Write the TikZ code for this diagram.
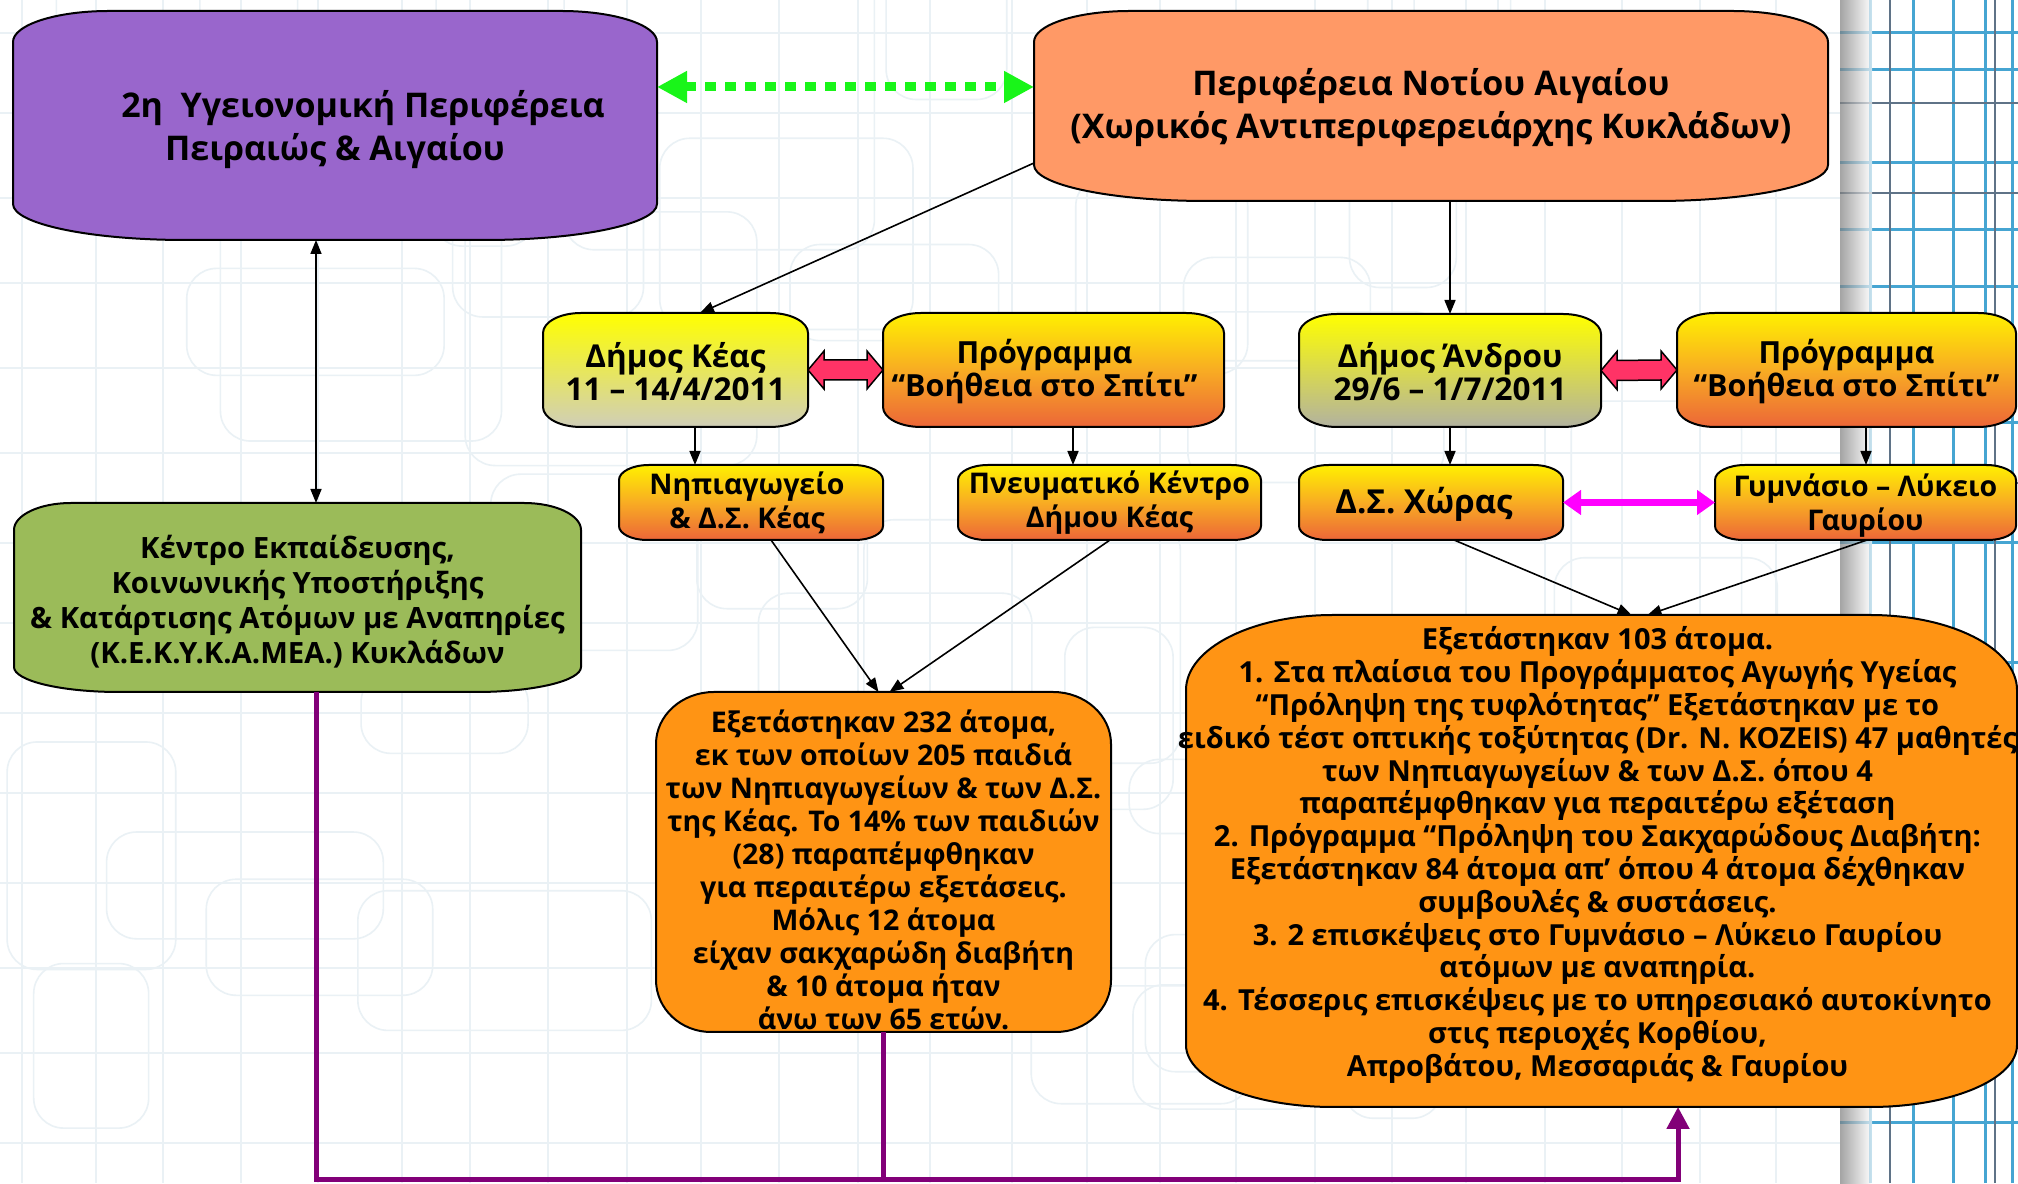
\documentclass[tikz,border=0pt]{standalone}
\usepackage{fontspec}
\setmainfont{Open Sans}
\usetikzlibrary{arrows.meta,calc}
\pgfdeclarelayer{bg}
\pgfdeclarelayer{shp}
\pgfsetlayers{bg,shp,main}
\definecolor{cpurple}{RGB}{153,102,204}
\definecolor{csalmon}{RGB}{255,153,102}
\definecolor{cgreen}{RGB}{155,187,89}
\definecolor{corange}{RGB}{255,148,20}
\definecolor{dotgreen}{RGB}{25,245,25}
\definecolor{cmag}{RGB}{255,0,255}
\definecolor{cred}{RGB}{255,51,102}
\definecolor{cpur}{RGB}{130,0,120}
\definecolor{ytop}{RGB}{255,255,0}
\definecolor{kbot}{RGB}{208,206,184}
\definecolor{abot}{RGB}{178,178,160}
\definecolor{ptop}{RGB}{255,240,0}
\definecolor{pmid}{RGB}{248,172,35}
\definecolor{pbot}{RGB}{236,102,56}
\definecolor{faint}{RGB}{234,241,245}
\definecolor{stripblue}{RGB}{70,165,210}
\definecolor{stripdark}{RGB}{95,115,135}
\pgfdeclareverticalshading{progsh}{100bp}{color(0bp)=(pbot); color(25bp)=(pbot); color(50bp)=(pmid); color(75bp)=(ptop); color(100bp)=(ptop)}
\newcommand\shapebox[6]{\draw[#6] ([yshift=-#3pt]#1.north west) arc[start angle=180,end angle=90,x radius=#2pt,y radius=#3pt] -- ([xshift=-#2pt]#1.north east) arc[start angle=90,end angle=0,x radius=#2pt,y radius=#3pt] -- ([yshift=#5pt]#1.south east) arc[start angle=0,end angle=-90,x radius=#4pt,y radius=#5pt] -- ([xshift=#4pt]#1.south west) arc[start angle=270,end angle=180,x radius=#4pt,y radius=#5pt] -- cycle;}
\begin{document}
\begin{tikzpicture}[x=1pt,y=1pt,
  bx/.style 2 args={inner sep=0pt,outer sep=0pt,minimum width=#1pt,minimum height=#2pt},
  bxs/.style={draw=black,line width=2pt},
  txt/.style={align=center,inner sep=0pt,font=\bfseries\fontsize{28.5}{33}\selectfont},
  midtxt/.style={align=center,inner sep=0pt,font=\bfseries\fontsize{30.5}{33}\selectfont},
  smtxt/.style={align=center,inner sep=0pt,font=\bfseries\fontsize{28.5}{34}\selectfont},
  bigtxt/.style={align=center,inner sep=0pt,font=\bfseries\fontsize{34}{43}\selectfont},
  blk/.style={-{Triangle[length=14pt,width=11pt]},line width=1.6pt,black},
  blk2/.style={{Triangle[length=14pt,width=11pt]}-{Triangle[length=14pt,width=11pt]},line width=1.6pt,black},
  grn/.style={{Triangle[length=30pt,width=30pt]}-{Triangle[length=30pt,width=30pt]},line width=9pt,dash pattern=on 11pt off 9pt,dotgreen},
  mag/.style={{Triangle[length=18pt,width=24pt]}-{Triangle[length=18pt,width=24pt]},line width=7pt,cmag},
  pur/.style={line width=5pt,cpur,line join=miter},
  redarr/.style={fill=cred,draw=black,line width=1.5pt,line join=miter}]
\useasboundingbox (0,0) rectangle (2018,1183);
\begin{pgfonlayer}{bg}
\fill[white] (0,0) rectangle (2018,1183);
\foreach \x in {22,96,163,241,318,402,470,548,627,701,779,858,930,1012,1087,1160,1236,1315,1392,1466,1545,1622,1700,1776}
  \draw[faint,line width=1.2pt] (\x,0) -- (\x,1183);
\foreach \y in {40,130,215,300,390,470,560,640,730,815,900,985,1070,1150}
  \draw[faint,line width=1.2pt] (0,\y) -- (1840,\y);
\pgfmathsetseed{7}
\foreach \i in {1,...,40}{
  \pgfmathsetmacro\rx{rnd*1750}
  \pgfmathsetmacro\ry{rnd*1120}
  \pgfmathsetmacro\rw{90+rnd*230}
  \pgfmathsetmacro\rh{70+rnd*220}
  \draw[faint,line width=1.6pt,rounded corners=30pt] (\rx,\ry) rectangle ++(\rw,\rh);
}
\fill[white] (1840,0) rectangle (2018,1183);
\foreach \x in {1870,1913,1953,1985,2012} \draw[stripblue,line width=3pt] (\x,0) -- (\x,1183);
\foreach \y in {1150,1113,1020,953,896,760,640,520,400,280,150,60} \draw[stripblue,line width=3pt] (1840,\y) -- (2018,\y);
\foreach \y in {1080,990,700,300} \draw[stripdark,line width=2.5pt] (1840,\y) -- (2018,\y);
\foreach \x in {1890,1995} \draw[stripdark,line width=2pt] (\x,0) -- (\x,1183);
\shade[left color=black!50,right color=white,opacity=0.7] (1840,0) rectangle (1872,1183);
\end{pgfonlayer}

% box frames (named nodes)
\node[bx={644}{229}] (hyg) at (335,1057.5) {};
\node[bx={794}{190}] (peri) at (1431,1077) {};
\node[bx={265}{114}] (keas) at (675.5,813) {};
\node[bx={341}{114}] (prog1) at (1053.5,813) {};
\node[bx={302}{113}] (andros) at (1450,812.5) {};
\node[bx={339}{114}] (prog2) at (1846.5,813) {};
\node[bx={264}{75}] (nipia) at (751,680.5) {};
\node[bx={303}{75}] (pnevm) at (1109.5,680.5) {};
\node[bx={264}{75}] (ds) at (1431,680.5) {};
\node[bx={301}{75}] (gym) at (1865.5,680.5) {};
\node[bx={567}{189}] (kek) at (297.5,585.5) {};
\node[bx={455}{340}] (res1) at (883.5,321) {};
\node[bx={831}{492}] (res2) at (1601.5,322) {};

\begin{pgfonlayer}{shp}
\shapebox{hyg}{96}{31}{172}{36}{bxs,fill=cpurple}
\shapebox{peri}{96}{31}{172}{36}{bxs,fill=csalmon}
\shapebox{keas}{38}{20}{38}{20}{bxs,top color=ytop,bottom color=kbot}
\shapebox{prog1}{38}{20}{38}{20}{bxs,shade,shading=progsh}
\shapebox{andros}{38}{20}{38}{20}{bxs,top color=ytop,bottom color=abot}
\shapebox{prog2}{38}{20}{38}{20}{bxs,shade,shading=progsh}
\shapebox{nipia}{30}{15}{28}{14}{bxs,shade,shading=progsh}
\shapebox{pnevm}{30}{15}{28}{14}{bxs,shade,shading=progsh}
\shapebox{ds}{30}{15}{28}{14}{bxs,shade,shading=progsh}
\shapebox{gym}{30}{15}{28}{14}{bxs,shade,shading=progsh}
\shapebox{kek}{57}{27}{105}{25}{bxs,fill=cgreen}
\shapebox{res1}{58}{52}{55}{52}{bxs,fill=corange}
\shapebox{res2}{147}{75}{147}{62}{bxs,fill=corange}
\end{pgfonlayer}

% texts
\node[bigtxt] (hyg-t) at ([yshift=-4pt]hyg.center) {\hspace*{56pt}2η\ \ Υγειονομική Περιφέρεια\\Πειραιώς \& Αιγαίου};
\node[bigtxt] (peri-t) at ([yshift=-2pt]peri.center) {Περιφέρεια Νοτίου Αιγαίου\\(Χωρικός Αντιπεριφερειάρχης Κυκλάδων)};
\node[midtxt,font=\bfseries\fontsize{31.5}{33}\selectfont] (keas-t) at ([yshift=-2pt]keas.center) {Δήμος Κέας\\11 – 14/4/2011};
\node[midtxt] (prog1-t) at ([xshift=-9pt,yshift=-2pt]prog1.center) {Πρόγραμμα\\“Βοήθεια στο Σπίτι”};
\node[midtxt,font=\bfseries\fontsize{31.5}{33}\selectfont] (andros-t) at ([yshift=-1pt]andros.center) {Δήμος Άνδρου\\29/6 – 1/7/2011};
\node[midtxt] (prog2-t) at ([yshift=-2pt]prog2.center) {Πρόγραμμα\\“Βοήθεια στο Σπίτι”};
\node[smtxt] (nipia-t) at ([xshift=-4pt]nipia.center) {Νηπιαγωγείο\\\& Δ.Σ. Κέας};
\node[smtxt] (pnevm-t) at (pnevm.center) {Πνευματικό Κέντρο\\Δήμου Κέας};
\node[smtxt,font=\bfseries\fontsize{33}{34}\selectfont] (ds-t) at ([xshift=-7pt,yshift=-2pt]ds.center) {Δ.Σ. Χώρας};
\node[smtxt] (gym-t) at ([yshift=-3pt]gym.center) {Γυμνάσιο – Λύκειο\\Γαυρίου};
\node[midtxt,font=\bfseries\fontsize{29.3}{35}\selectfont] (kek-t) at ([yshift=-4pt]kek.center) {Κέντρο Εκπαίδευσης,\\Κοινωνικής Υποστήριξης\\\& Κατάρτισης Ατόμων με Αναπηρίες\\(Κ.Ε.Κ.Υ.Κ.Α.ΜΕΑ.) Κυκλάδων};
\node[txt] (res1-t) at ([yshift=-8pt]res1.center) {Εξετάστηκαν 232 άτομα,\\εκ των οποίων 205 παιδιά\\των Νηπιαγωγείων \& των Δ.Σ.\\της Κέας. Το 14\% των παιδιών\\(28) παραπέμφθηκαν\\για περαιτέρω εξετάσεις.\\Μόλις 12 άτομα\\είχαν σακχαρώδη διαβήτη\\\& 10 άτομα ήταν\\άνω των 65 ετών.};
\node[txt,font=\bfseries\fontsize{29}{32.8}\selectfont] (res2-t) at ([xshift=-4pt,yshift=6pt]res2.center) {Εξετάστηκαν 103 άτομα.\\1. Στα πλαίσια του Προγράμματος Αγωγής Υγείας\\“Πρόληψη της τυφλότητας” Εξετάστηκαν με το\\\makebox[0pt]{ειδικό τέστ οπτικής τοξύτητας (Dr. N. KOZEIS) 47 μαθητές}\\των Νηπιαγωγείων \& των Δ.Σ. όπου 4\\παραπέμφθηκαν για περαιτέρω εξέταση\\2. Πρόγραμμα “Πρόληψη του Σακχαρώδους Διαβήτη:\\Εξετάστηκαν 84 άτομα απ' όπου 4 άτομα δέχθηκαν\\συμβουλές \& συστάσεις.\\3. 2 επισκέψεις στο Γυμνάσιο – Λύκειο Γαυρίου\\ατόμων με αναπηρία.\\4. Τέσσερις επισκέψεις με το υπηρεσιακό αυτοκίνητο\\στις περιοχές Κορθίου,\\Απροβάτου, Μεσσαριάς \& Γαυρίου};

% connectors
\draw[grn] ([yshift=38.5pt]hyg.east) -- ([yshift=38.5pt]hyg.east -| peri.west);
\draw[blk] ([yshift=-57pt]peri.west) -- ([xshift=24.5pt]keas.north);
\draw[blk] (andros.north |- peri.south) -- (andros.north);
\draw[blk2] ([xshift=-19pt]hyg.south) -- ([xshift=-19pt]hyg.south |- kek.north);
\draw[blk] ([xshift=19.5pt]keas.south) -- ([xshift=19.5pt]keas.south |- nipia.north);
\draw[blk] ([xshift=19.5pt]prog1.south) -- ([xshift=19.5pt]prog1.south |- pnevm.north);
\draw[blk] (andros.south) -- (andros.south |- ds.north);
\draw[blk] ([xshift=19.5pt]prog2.south) -- ([xshift=19.5pt]prog2.south |- gym.north);
\draw[blk] ([xshift=20pt]nipia.south) -- ([xshift=-5pt]res1.north);
\draw[blk] ([xshift=0.5pt]pnevm.south) -- ([xshift=6pt]res1.north);
\draw[blk] ([xshift=23pt]ds.south) -- ([xshift=30pt]res2.north);
\draw[blk] ([xshift=1.5pt]gym.south) -- ([xshift=46pt]res2.north);
\draw[mag] (ds.east) -- (gym.west);
\draw[redarr] (keas.east) -- ++(16,19) -- ++(0,-9) -- ($(prog1.west)+(-16,10)$) -- ++(0,9) -- (prog1.west) -- ++(-16,-19) -- ++(0,9) -- ($(keas.east)+(16,-10)$) -- ++(0,-9) -- cycle;
\draw[redarr] (andros.east) -- ++(16,19) -- ++(0,-9) -- ($(prog2.west)+(-16,10)$) -- ++(0,9) -- (prog2.west) -- ++(-16,-19) -- ++(0,9) -- ($(andros.east)+(16,-10)$) -- ++(0,-9) -- cycle;
\coordinate (bot) at (0,4);
\draw[pur,-{Triangle[length=22pt,width=22pt]}] ([xshift=18.5pt]kek.south) -- ([xshift=18.5pt]kek.south |- bot) -- ([xshift=76.5pt]res2.south |- bot) -- ([xshift=76.5pt]res2.south);
\draw[pur] (res1.south) -- (res1.south |- bot);
\end{tikzpicture}
\end{document}
